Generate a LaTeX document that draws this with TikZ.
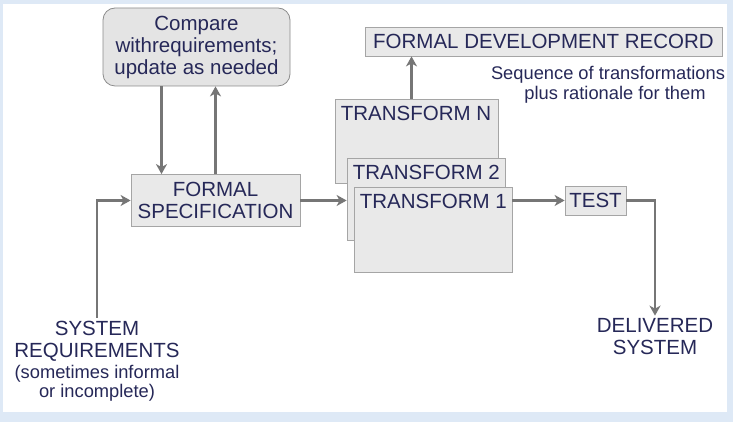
\documentclass[tikz,border=0pt]{standalone}
\usepackage{fontspec}
\setmainfont{Liberation Sans}
\usepackage{xcolor}
\usetikzlibrary{positioning, arrows.meta}

\definecolor{ink}{RGB}{38,40,88}
\definecolor{boxfill}{RGB}{233,233,233}
\definecolor{boxline}{RGB}{165,165,165}
\definecolor{wire}{RGB}{118,118,118}
\definecolor{frame}{RGB}{222,233,246}
\newcommand{\bigtxt}{\fontsize{20.5}{22}\selectfont}
\newcommand{\smalltxt}{\fontsize{18.3}{20}\selectfont}

\begin{document}
\begin{tikzpicture}[
    x=1pt, y=1pt,
    box/.style={rectangle, draw=boxline, fill=boxfill, line width=0.8pt,
      inner sep=0pt, align=center, font=\bigtxt, text=ink},
    stack/.style={box, label={[anchor=north west, inner sep=6pt, yshift=-1.5pt,
      font=\bigtxt, text=ink]north west:#1}},
    plain/.style={align=center, font=\bigtxt, text=ink, inner sep=3pt},
    arr/.style={-{Stealth[length=10pt, width=11pt, inset=3pt]}, draw=wire,
      line width=2.7pt}]
    % background and screen frame
    \fill[frame] (0,0) rectangle (733,422);
    \fill[white] (3,10) rectangle (727,418);
    \useasboundingbox (0,0) rectangle (733,422);
    % boxes
    \node[box, rounded corners=12pt, draw=boxline!85!black, fill=boxfill!98!black,
      minimum width=187pt, minimum height=78pt] (cmp) at (196.5,375)
      {\fontsize{20.5}{21.5}\selectfont Compare\\withrequirements;\\update as needed};
    \node[box, minimum width=169pt, minimum height=52pt] (spec) at (215.5,221.5)
      {FORMAL\\SPECIFICATION};
    \node[stack={TRANSFORM N}, minimum width=163pt, minimum height=84pt] (trN) at (416.5,281) {};
    \node[stack={TRANSFORM 2}, minimum width=158pt, minimum height=82pt] (tr2) at (426,223) {};
    \node[stack={TRANSFORM 1}, minimum width=158pt, minimum height=85pt] (tr1) at (433,192.5) {};
    \node[box, minimum width=357pt, minimum height=29pt] (fdr) at (543.5,380.5)
      {FORMAL DEVELOPMENT RECORD};
    \node[plain, font=\smalltxt] (seq) at (608,337)
      {Sequence of transformations\\\hspace*{14pt}plus rationale for them};
    \node[box, minimum width=61pt, minimum height=29pt] (test) at (595.5,221.5) {TEST};
    \node[plain] (deliv) at (655,85) {DELIVERED\\SYSTEM};
    \node[plain] (sysreq) at (97,61)
      {SYSTEM\\REQUIREMENTS\\[-1pt]{\smalltxt (sometimes informal}\\[-3pt]{\smalltxt or incomplete)}};
    % connectors
    \draw[arr] ([xshift=-35pt]cmp.south) -- ([xshift=-54pt]spec.north);
    \draw[arr] (spec.north) -- (spec.north |- cmp.south);
    \draw[arr] (sysreq.north) |- (spec.west);
    \draw[arr] (spec.east) -- (spec.east -| tr2.west);
    \draw[arr] ([xshift=-5pt]trN.north) -- ([xshift=-5pt]trN.north |- fdr.south);
    \draw[arr] (test.west -| tr1.east) -- (test.west);
    \draw[arr] (test.east) -| (deliv.north);
  \end{tikzpicture}
\end{document}
